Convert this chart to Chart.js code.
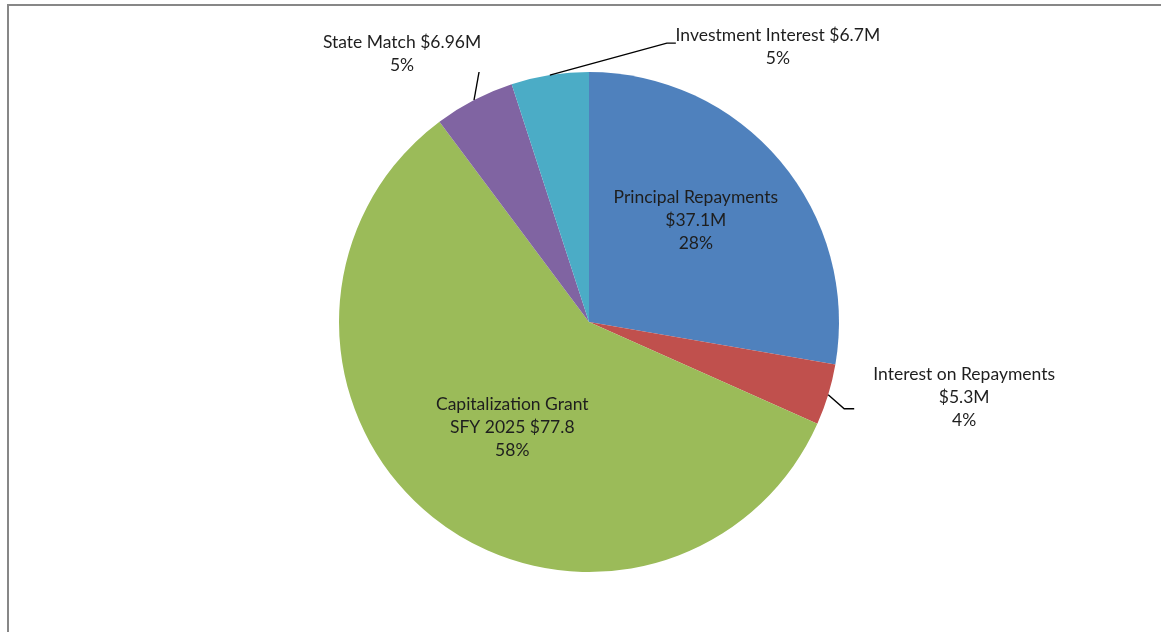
<!DOCTYPE html>
<html>
<head>
<meta charset="utf-8">
<script src="https://cdn.jsdelivr.net/npm/chart.js@4"></script>
<style>
    html, body { margin: 0; padding: 0; background: #fff; }
    #wrap { position: relative; width: 1161px; height: 632px; overflow: hidden; }
    #frame {
        position: absolute; left: 7px; top: 4px; right: -10px; bottom: -10px;
        border-left: 2px solid #878787; border-top: 2px solid #878787;
    }
    canvas { position: absolute; left: 0; top: 0; }
</style>
</head>
<body>
<div id="wrap">
    <div id="frame"></div>
    <canvas id="fundChart" width="1161" height="632"></canvas>
</div>
<script>
const categories = ['Principal Repayments', 'Interest on Repayments', 'Capitalization Grant', 'State Match', 'Investment Interest'];
const amounts = [37.1, 5.3, 77.8, 6.96, 6.7];
const sliceColors = ['#4F81BD', '#C0504D', '#9BBB59', '#8064A2', '#4BACC6'];

// text lines per slice; {v} = amount, {p} = percent
const labelLines = [
    ['Principal Repayments', '${v}M', '{p}%'],
    ['Interest on Repayments', '${v}M', '{p}%'],
    ['Capitalization Grant', 'SFY 2025 ${v}', '{p}%'],
    ['State Match ${v}M', '{p}%'],
    ['Investment Interest ${v}M', '{p}%']
];

// where each label goes: inside at a fraction of the radius, or outside on a leader line
const labelPlacement = [
    { inside: true, dist: 0.59, dx: -6, dy: -7 },
    { inside: false, elbow: [16, 14], tail: 10, text: [110, -11] },
    { inside: true, dist: 0.53, dx: 6, dy: 2 },
    { inside: false, elbow: [5, -28], tail: 0, text: [-77, -18] },
    { inside: false, elbow: [117, -32], tail: 9, text: [102, 4] }
];

const total = amounts.reduce((a, b) => a + b, 0);

const sliceLabels = {
    id: 'sliceLabels',
    afterDatasetsDraw(chart) {
        const ctx = chart.ctx;
        const arcs = chart.getDatasetMeta(0).data;
        ctx.save();
        ctx.font = '17.5px Lato, "Open Sans", sans-serif';
        ctx.fillStyle = '#1e1e1e';
        ctx.textAlign = 'center';
        ctx.textBaseline = 'middle';
        const lineH = 23;
        arcs.forEach((arc, i) => {
            const p = arc.getProps(['x', 'y', 'startAngle', 'endAngle', 'outerRadius']);
            const mid = (p.startAngle + p.endAngle) / 2;
            const pct = Math.round(amounts[i] / total * 100);
            const lines = labelLines[i].map(s => s.replace('{v}', amounts[i]).replace('{p}', pct));
            const pl = labelPlacement[i];
            let cx, cy;
            if (pl.inside) {
                cx = p.x + Math.cos(mid) * p.outerRadius * pl.dist + pl.dx;
                cy = p.y + Math.sin(mid) * p.outerRadius * pl.dist + pl.dy;
            } else {
                const ex = p.x + Math.cos(mid) * p.outerRadius;
                const ey = p.y + Math.sin(mid) * p.outerRadius;
                const bx = ex + pl.elbow[0];
                const by = ey + pl.elbow[1];
                const tx = bx + pl.tail;
                ctx.beginPath();
                ctx.strokeStyle = '#000';
                ctx.lineWidth = 1.4;
                ctx.moveTo(ex, ey);
                ctx.lineTo(bx, by);
                ctx.lineTo(tx, by);
                ctx.stroke();
                cx = tx + pl.text[0];
                cy = by + pl.text[1];
            }
            const top = cy - (lines.length - 1) * lineH / 2;
            lines.forEach((t, k) => ctx.fillText(t, cx, top + k * lineH));
        });
        ctx.restore();
    }
};

new Chart(document.getElementById('fundChart').getContext('2d'), {
    type: 'pie',
    data: {
        labels: categories,
        datasets: [{
            data: amounts,
            backgroundColor: sliceColors,
            borderWidth: 0
        }]
    },
    options: {
        responsive: false,
        animation: false,
        layout: { padding: { left: 339, right: 322, top: 72, bottom: 60 } },
        plugins: {
            legend: { display: false },
            tooltip: { enabled: false }
        }
    },
    plugins: [sliceLabels]
});
</script>
</body>
</html>
